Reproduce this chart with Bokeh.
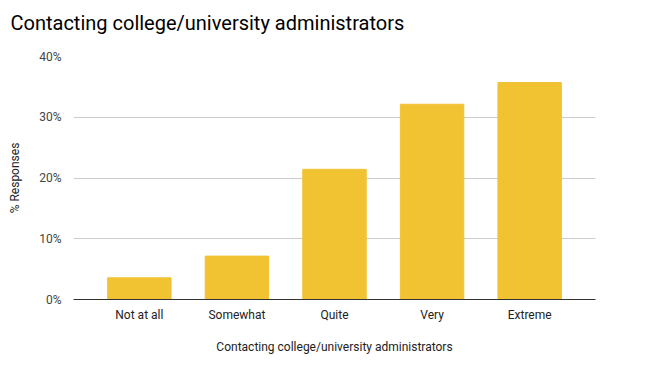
from bokeh.plotting import figure
from bokeh.models import FactorRange, Range1d, NumeralTickFormatter, FixedTicker, Title
from bokeh.embed import file_html
from bokeh.resources import INLINE

categories = ["Not at all", "Somewhat", "Quite", "Very", "Extreme"]
values = [0.0357, 0.0714, 0.2143, 0.3214, 0.3571]
y_ticks = [0, 0.1, 0.2, 0.3, 0.4]
title_text = "Contacting college/university administrators"

p = figure(width=653, height=375, output_backend="svg", toolbar_location=None,
           x_range=FactorRange(*categories, range_padding=0.07),
           y_range=Range1d(0, 0.4))
p.min_border_left = 73
p.min_border_right = 58
p.min_border_bottom = 76
p.min_border_top = 1

# spacer nearest the plotting area, then the title, then a small top spacer
p.add_layout(Title(text=" ", text_font_size="10px", standoff=6), "above")
p.add_layout(Title(text=title_text, text_font="Roboto", text_font_size="20px",
                   text_font_style="normal", text_color="#000000",
                   offset=-63, standoff=4, vertical_align="middle"), "above")
p.add_layout(Title(text=" ", text_font_size="4px", standoff=0), "above")

p.vbar(x=categories, top=values, width=0.65, color="#F1C232")

p.outline_line_color = None
p.xgrid.grid_line_color = None
p.ygrid.grid_line_color = "#cccccc"
p.ygrid.ticker = FixedTicker(ticks=y_ticks)

p.yaxis.ticker = FixedTicker(ticks=y_ticks)
p.yaxis.formatter = NumeralTickFormatter(format="0%")
p.yaxis.axis_line_color = None
p.yaxis.major_tick_line_color = None
p.yaxis.minor_tick_line_color = None
p.yaxis.major_label_text_font = "Roboto"
p.yaxis.major_label_text_font_size = "12px"
p.yaxis.major_label_text_color = "#444444"
p.yaxis.major_label_standoff = 6
p.yaxis.axis_label = "% Responses"
p.yaxis.axis_label_text_font = "Roboto"
p.yaxis.axis_label_text_font_size = "12px"
p.yaxis.axis_label_text_font_style = "normal"
p.yaxis.axis_label_text_color = "#222222"
p.yaxis.axis_label_standoff = 14

p.xaxis.axis_line_color = "#333333"
p.xaxis.major_tick_line_color = None
p.xaxis.minor_tick_line_color = None
p.xaxis.major_label_text_font = "Roboto"
p.xaxis.major_label_text_font_size = "12px"
p.xaxis.major_label_text_color = "#222222"
p.xaxis.major_label_standoff = 2
p.xaxis.axis_label = "Contacting college/university administrators"
p.xaxis.axis_label_text_font = "Roboto"
p.xaxis.axis_label_text_font_size = "12px"
p.xaxis.axis_label_text_font_style = "normal"
p.xaxis.axis_label_text_color = "#222222"
p.xaxis.axis_label_standoff = 15

open("out.html", "w").write(file_html(p, INLINE))
